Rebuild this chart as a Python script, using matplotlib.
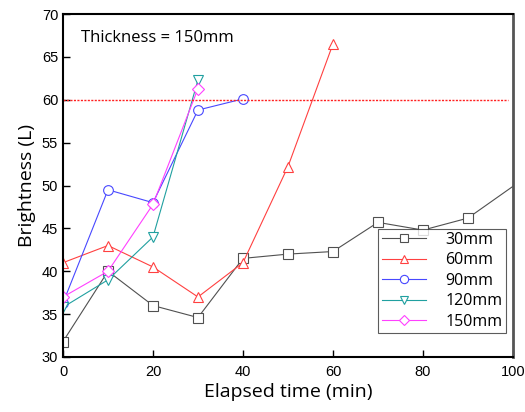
import matplotlib
matplotlib.use("Agg")
import matplotlib.pyplot as plt

plt.rcParams['font.family'] = ['Open Sans', 'DejaVu Sans']

x_30 = [0, 10, 20, 30, 40, 50, 60, 70, 80, 90, 100]
y_30 = [31.8, 40.0, 36.0, 34.6, 41.5, 42.0, 42.3, 45.7, 44.8, 46.2, 49.9]
x_60 = [0, 10, 20, 30, 40, 50, 60]
y_60 = [41.0, 43.0, 40.5, 37.0, 41.0, 52.2, 66.5]
x_90 = [0, 10, 20, 30, 40]
y_90 = [36.3, 49.5, 48.0, 58.8, 60.1]
x_120 = [0, 10, 20, 30]
y_120 = [35.8, 39.0, 44.0, 62.3]
x_150 = [0, 10, 20, 30]
y_150 = [37.0, 40.0, 47.8, 61.3]
labels = ['30mm', '60mm', '90mm', '120mm', '150mm']
threshold = 60

fig = plt.figure(figsize=(5.25, 4.12), dpi=100)
ax = fig.add_axes([0.12, 0.1335, 0.857, 0.8325])

series = [
    (x_30, y_30, 's', '#505050'),
    (x_60, y_60, '^', '#ff4040'),
    (x_90, y_90, 'o', '#4848ff'),
    (x_120, y_120, 'v', '#20a0a0'),
    (x_150, y_150, 'D', '#ff40ff'),
]
for (xs, ys, m, c), lab in zip(series, labels):
    ms = 6 if m == 'D' else 7
    # last point of the 30mm series sits on the frame edge, its marker is cut off
    every = list(range(len(xs) - 1)) if xs[-1] >= 100 else None
    ax.plot(xs, ys, marker=m, color=c, mfc='white', mec=c, ms=ms,
            lw=0.8, mew=0.8, label=lab, markevery=every)

ax.plot([0, 99], [threshold, threshold], ls=(0, (1.5, 1)), color='#ff2020', lw=1.0)

ax.set_xlim(0, 100)
ax.set_ylim(30, 70)
ax.set_xticks([0, 20, 40, 60, 80, 100])
ax.set_yticks(range(30, 71, 5))
ax.tick_params(direction='in', length=5, width=1, labelsize=10.5, top=False, right=False)
for lab in ax.get_xticklabels() + ax.get_yticklabels():
    lab.set_family(['Liberation Sans', 'DejaVu Sans'])
ax.tick_params(axis='x', pad=6)
ax.spines['left'].set_linewidth(1.5)
ax.spines['bottom'].set_linewidth(1.5)
ax.spines['top'].set_linewidth(1.5)
ax.spines['right'].set_linewidth(2)
ax.spines['right'].set_color('#555555')

ax.set_xlabel('Elapsed time (min)', fontsize=14, labelpad=3)
ax.set_ylabel('Brightness (L)', fontsize=14, labelpad=4)
ax.text(0.04, 0.93, 'Thickness = 150mm', transform=ax.transAxes, fontsize=12, va='center')

leg = ax.legend(loc='lower right', bbox_to_anchor=(0.984, 0.07), borderaxespad=0,
                fontsize=11.5, frameon=True, fancybox=False, edgecolor='#333333',
                markerscale=0.85, borderpad=0.2, labelspacing=0.28,
                handlelength=2.8, handletextpad=1.2)
leg.get_frame().set_linewidth(0.8)

fig.savefig('out.png', dpi=100)
